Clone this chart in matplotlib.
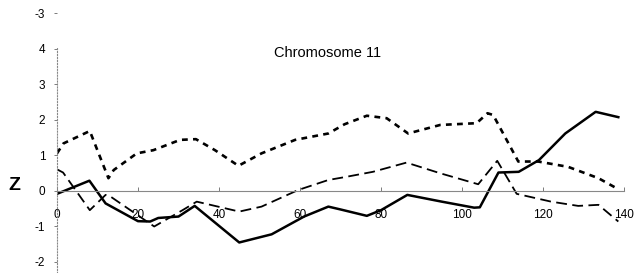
import matplotlib.pyplot as plt

# Datos (posicion en cromosoma, Z)
x_solid = [0, 8, 12, 20, 23, 25, 30, 34, 45, 53, 61, 67, 70, 76.5, 80, 86.5,
           95, 103, 104.4, 109, 114, 119, 125.5, 133, 138.6]
z_solid = [-0.08, 0.29, -0.35, -0.85, -0.86, -0.76, -0.72, -0.42, -1.45, -1.22,
           -0.72, -0.44, -0.52, -0.70, -0.54, -0.11, -0.30, -0.47, -0.46, 0.52,
           0.54, 0.87, 1.62, 2.23, 2.08]

x_short = [0, 1.6, 8.1, 12.7, 14, 19.7, 23.8, 30.4, 34.3, 39, 44.8, 50.5, 58.8,
           67, 71, 76.5, 81.4, 86.7, 94.6, 103.6, 106.3, 107.7, 113.9, 118.8,
           126.2, 133.7, 138.6]
z_short = [1.06, 1.34, 1.69, 0.36, 0.59, 1.06, 1.15, 1.44, 1.46, 1.15, 0.71, 1.06,
           1.44, 1.62, 1.88, 2.12, 2.05, 1.62, 1.86, 1.91, 2.19, 2.14, 0.83, 0.83,
           0.68, 0.36, 0.05]

x_long = [0, 1.5, 8.1, 12, 13, 24, 31, 34.5, 45, 50.5, 59.6, 67, 71, 78, 86.3,
          94.6, 104, 108.7, 113.5, 122, 128.7, 133.7, 138.6]
z_long = [0.61, 0.52, -0.54, -0.11, -0.14, -1.0, -0.54, -0.3, -0.58, -0.44, 0.03,
          0.31, 0.39, 0.54, 0.80, 0.50, 0.19, 0.85, -0.08, -0.3, -0.42, -0.39, -0.86]

x_ticks = [0, 20, 40, 60, 80, 100, 120, 140]
y_ticks = [-2, -1, 0, 1, 2, 3, 4, 5]
y_tick_labels = ['-2', '-1', '0', '1', '2', '3', '4', '-3']

plt.rcParams['font.family'] = ['Liberation Sans', 'DejaVu Sans']

fig = plt.figure(figsize=(6.38, 2.73), dpi=100)
ax = fig.add_axes([57 / 638, 0, (624 - 57) / 638, 1])

ax.plot(x_solid, z_solid, color='black', lw=1.8, solid_joinstyle='round')
ax.plot(x_short, z_short, color='black', lw=1.9, dashes=(2.2, 2.0))
ax.plot(x_long, z_long, color='black', lw=1.3, dashes=(6, 3))

ax.set_xlim(0, 140)
ax.set_ylim(-2.31, 5.38)

# Ejes
for s in ['top', 'right']:
    ax.spines[s].set_visible(False)
ax.spines['bottom'].set_position(('data', 0))
ax.spines['bottom'].set_color('#888888')
ax.spines['bottom'].set_linewidth(0.8)
ax.spines['left'].set_color('#888888')
ax.spines['left'].set_linestyle(':')
ax.spines['left'].set_linewidth(0.8)
ax.spines['left'].set_bounds(-2.31, 4.05)

ax.set_xticks(x_ticks)
ax.set_yticks(y_ticks)
ax.set_yticklabels(y_tick_labels)
ax.tick_params(axis='x', direction='in', length=3, width=0.6, color='#666666',
               pad=13, labelsize=8.5)
ax.tick_params(axis='y', direction='out', length=2.5, width=0.6, color='#666666',
               pad=6, labelsize=8.5)

ax.text(66.7, 3.9, 'Chromosome 11', ha='center', va='center', fontsize=10.5)
fig.text(14 / 638, 1 - 185 / 273, 'Z', ha='center', va='center',
         fontsize=14, fontweight='bold')

fig.savefig('out.png', dpi=100)
